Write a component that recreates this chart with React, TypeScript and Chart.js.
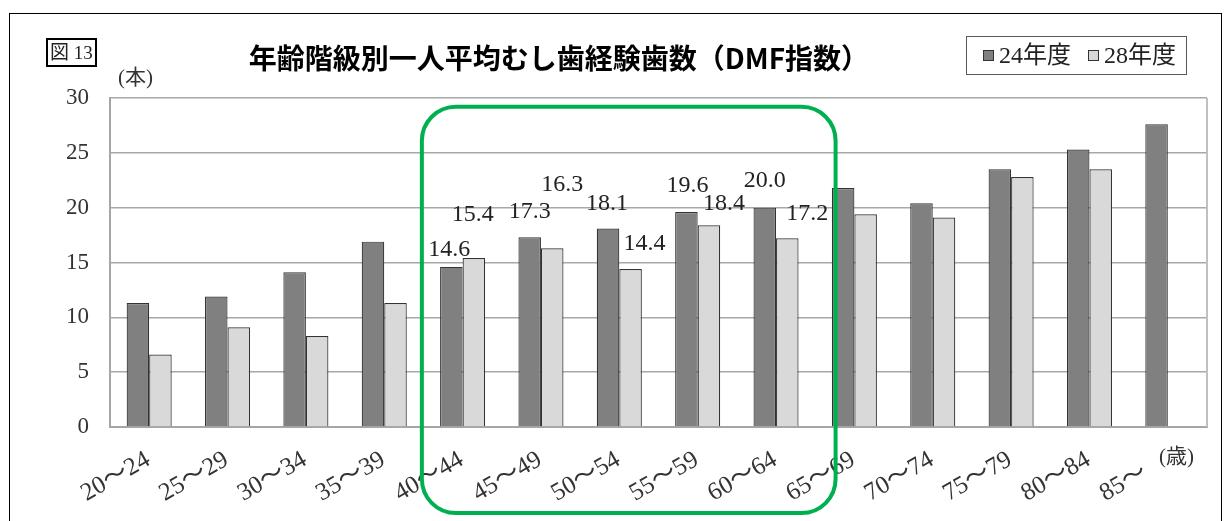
import React, { useEffect, useRef } from "react";
import { Chart, registerables } from "chart.js";

Chart.register(...registerables);

// ---- data ----
const categories = [
  "20～24", "25～29", "30～34", "35～39", "40～44", "45～49", "50～54",
  "55～59", "60～64", "65～69", "70～74", "75～79", "80～84", "85～",
];
const seriesNames = ["24年度", "28年度"];
const values24 = [11.3, 11.9, 14.1, 16.9, 14.6, 17.3, 18.1, 19.6, 20.0, 21.8, 20.4, 23.5, 25.3, 27.6];
const values28 = [6.6, 9.1, 8.3, 11.3, 15.4, 16.3, 14.4, 18.4, 17.2, 19.4, 19.1, 22.8, 23.5, null];
const yTickValues = [0, 5, 10, 15, 20, 25, 30];
const titleText = "年齢階級別一人平均むし歯経験歯数（DMF指数）";
const figureLabel = "図 13";
const yUnit = "(本)";
const xUnit = "(歳)";

// ---- style: data-label placement (px from bar top centre), null = no label ----
const labelShift24: (number[] | null)[] = [null, null, null, null, [-2, -17], [0, -26], [-1, -25], [1, -26], [0, -27], null, null, null, null, null];
const labelShift28: (number[] | null)[] = [null, null, null, null, [-1, -43], [10, -64], [14, -25], [15, -22], [20, -25], null, null, null, null, null];
// highlight box range in category/value units
const highlightFrom = 3.48;
const highlightTo = 8.76;
const highlightTop = 29.2;

const COLOR24 = "#808080";
const COLOR28 = "#d9d9d9";
const BORDER = "#333333";
const SERIF = "'Liberation Serif', 'Noto Sans CJK JP', serif";

const labelsPlugin = {
  id: "valueLabels",
  afterDatasetsDraw(chart: any) {
    const ctx = chart.ctx;
    const shifts = [labelShift24, labelShift28];
    ctx.save();
    ctx.font = `24px ${SERIF}`;
    ctx.fillStyle = "#222";
    ctx.textAlign = "center";
    ctx.textBaseline = "middle";
    chart.data.datasets.forEach((ds: any, di: number) => {
      const meta = chart.getDatasetMeta(di);
      meta.data.forEach((bar: any, i: number) => {
        const s = shifts[di][i];
        const v = ds.data[i];
        if (!s || v == null) return;
        ctx.fillText(Number(v).toFixed(1), bar.x + s[0], bar.y + s[1]);
      });
    });
    ctx.restore();
  },
};

const framePlugin = {
  id: "frameAndHighlight",
  afterDraw(chart: any) {
    const ctx = chart.ctx;
    const area = chart.chartArea;
    const xs = chart.scales.x;
    const ys = chart.scales.y;
    ctx.save();
    // right border of plot area
    ctx.strokeStyle = "#c0c0c0";
    ctx.lineWidth = 2;
    ctx.beginPath();
    ctx.moveTo(area.right, area.top);
    ctx.lineTo(area.right, area.bottom);
    ctx.stroke();
    // green highlight rounded rectangle
    const x1 = xs.getPixelForValue(highlightFrom);
    const x2 = xs.getPixelForValue(highlightTo);
    const y1 = ys.getPixelForValue(highlightTop);
    const y2 = chart.height - 8;
    const r = 34;
    ctx.strokeStyle = "#00b050";
    ctx.lineWidth = 4;
    ctx.beginPath();
    ctx.moveTo(x1 + r, y1);
    ctx.lineTo(x2 - r, y1);
    ctx.arcTo(x2, y1, x2, y1 + r, r);
    ctx.lineTo(x2, y2 - r);
    ctx.arcTo(x2, y2, x2 - r, y2, r);
    ctx.lineTo(x1 + r, y2);
    ctx.arcTo(x1, y2, x1, y2 - r, r);
    ctx.lineTo(x1, y1 + r);
    ctx.arcTo(x1, y1, x1 + r, y1, r);
    ctx.closePath();
    ctx.stroke();
    ctx.restore();
  },
};

export default function App() {
  const ref = useRef<HTMLCanvasElement | null>(null);

  useEffect(() => {
    if (!ref.current) return;
    const chart = new Chart(ref.current, {
      type: "bar",
      data: {
        labels: categories,
        datasets: [
          {
            label: seriesNames[0],
            data: values24,
            backgroundColor: COLOR24,
            borderColor: BORDER,
            borderWidth: 1.2,
            categoryPercentage: 0.575,
            barPercentage: 1,
          },
          {
            label: seriesNames[1],
            data: values28 as any,
            backgroundColor: COLOR28,
            borderColor: BORDER,
            borderWidth: 1.2,
            categoryPercentage: 0.575,
            barPercentage: 1,
          },
        ],
      },
      options: {
        responsive: false,
        animation: false,
        layout: { padding: { top: 98, right: 24, left: 0, bottom: 0 } },
        plugins: {
          legend: { display: false },
          tooltip: { enabled: false },
          title: { display: false },
        },
        scales: {
          x: {
            grid: { display: false, drawTicks: false },
            border: { display: true, color: "#a6a6a6", width: 2 },
            ticks: {
              autoSkip: false,
              maxRotation: 30,
              minRotation: 30,
              padding: 18,
              labelOffset: -1,
              color: "#333",
              font: { family: SERIF, size: 25 },
              // pad short labels so every label occupies the same slot length
              callback: (_v: any, i: number) => {
                const t = categories[i];
                return t.length < 5 ? t + "\u2007\u2007" : t;
              },
            },
            afterFit: (s: any) => {
              s.height = 94;
            },
          },
          y: {
            min: 0,
            max: 30,
            afterBuildTicks: (s: any) => {
              s.ticks = yTickValues.map((v) => ({ value: v }));
            },
            grid: { color: "#a8a8a8", lineWidth: 1.5, drawTicks: false },
            border: { display: true, color: "#a6a6a6", width: 2 },
            ticks: {
              padding: 21,
              color: "#333",
              font: { family: SERIF, size: 23 },
            },
            afterFit: (s: any) => {
              s.width = 110;
            },
          },
        },
      },
      plugins: [labelsPlugin, framePlugin],
    });
    return () => chart.destroy();
  }, []);

  const abs = (o: React.CSSProperties): React.CSSProperties => ({ position: "absolute", ...o });

  return (
    <div style={{ position: "fixed", left: 0, top: 0, width: 1231, height: 521, background: "#fff", overflow: "hidden" }}>
      <div style={abs({ left: 9, top: 13, width: 1213, height: 600, border: "1.5px solid #000", boxSizing: "border-box" })} />
      <canvas ref={ref} width={1231} height={521} style={abs({ left: 0, top: 0, width: 1231, height: 521 })} />
      <div
        style={abs({
          left: 46, top: 38, width: 51, height: 29, border: "2px solid #000", boxSizing: "border-box",
          fontFamily: SERIF, fontSize: 19, lineHeight: "25px", textAlign: "center", color: "#222", whiteSpace: "nowrap",
        })}
      >
        {figureLabel}
      </div>
      <div style={abs({ left: 118, top: 64, fontFamily: SERIF, fontSize: 21, lineHeight: "26px", color: "#333", whiteSpace: "nowrap" })}>
        {yUnit}
      </div>
      <div style={abs({ left: 1159, top: 443, fontFamily: SERIF, fontSize: 21, lineHeight: "26px", color: "#333", whiteSpace: "nowrap" })}>
        {xUnit}
      </div>
      <div
        style={abs({
          left: 0, width: 1118, top: 38, textAlign: "center", fontFamily: "'Noto Sans CJK JP', sans-serif",
          fontWeight: 700, fontSize: 28, lineHeight: "38px", color: "#000", whiteSpace: "nowrap",
        })}
      >
        {titleText}
      </div>
      <div style={abs({ left: 966, top: 36, width: 221, height: 39, border: "1.5px solid #595959", boxSizing: "border-box" })} />
      <div style={abs({ left: 983, top: 50, width: 11, height: 11, background: COLOR24, border: `1px solid ${BORDER}`, boxSizing: "border-box" })} />
      <div style={abs({ left: 999, top: 40, fontFamily: SERIF, fontSize: 24, lineHeight: "30px", color: "#222", whiteSpace: "nowrap" })}>
        {seriesNames[0]}
      </div>
      <div style={abs({ left: 1088, top: 50, width: 11, height: 11, background: COLOR28, border: `1px solid ${BORDER}`, boxSizing: "border-box" })} />
      <div style={abs({ left: 1104, top: 40, fontFamily: SERIF, fontSize: 24, lineHeight: "30px", color: "#222", whiteSpace: "nowrap" })}>
        {seriesNames[1]}
      </div>
    </div>
  );
}
